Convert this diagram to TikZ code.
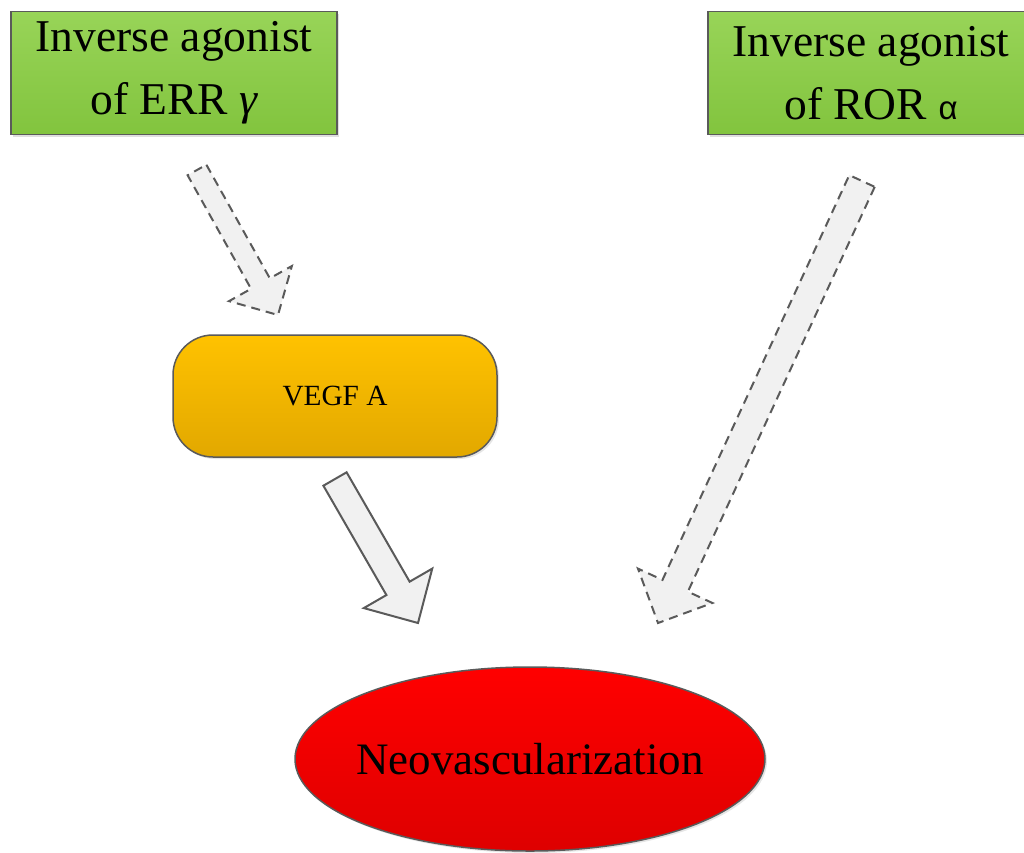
\documentclass[tikz,border=0pt]{standalone}
\usepackage{fontspec}
\setmainfont{Liberation Serif}
\newfontfamily\greeksans{Liberation Sans}
\usetikzlibrary{calc,shapes.geometric,shadows}
\definecolor{gtop}{HTML}{98D458}
\definecolor{gbot}{HTML}{82C43E}
\definecolor{otop}{HTML}{FFC200}
\definecolor{obot}{HTML}{E2A800}
\definecolor{rtop}{HTML}{FF0000}
\definecolor{rbot}{HTML}{DE0000}
\definecolor{edgegray}{HTML}{5A5A5A}
\definecolor{arrowfill}{HTML}{F1F1F1}
\tikzset{
  greenbox/.style={draw=edgegray, line width=1.5pt, top color=gtop, bottom color=gbot,
    minimum width=326pt, minimum height=123pt, align=center, inner sep=0pt,
    drop shadow={opacity=0.25, shadow xshift=2pt, shadow yshift=-2pt},
    font=\fontsize{45.5}{63}\selectfont},
  orangebox/.style={draw=edgegray, line width=1.5pt, top color=otop, bottom color=obot,
    rounded corners=40pt, minimum width=324pt, minimum height=122pt, inner sep=0pt,
    drop shadow={opacity=0.2, shadow xshift=2pt, shadow yshift=-2pt},
    font=\fontsize{29.3}{34}\selectfont},
  redell/.style={ellipse, draw=edgegray, line width=1.5pt, top color=rtop, bottom color=rbot,
    minimum width=470pt, minimum height=184pt, inner sep=0pt,
    drop shadow={opacity=0.2, shadow xshift=2pt, shadow yshift=-2pt}},
  elltext/.style={font=\fontsize{45}{50}\selectfont},
  dasharrow/.style={draw=edgegray, line width=2pt, fill=arrowfill, dash pattern=on 9pt off 6pt, line join=miter},
  solidarrow/.style={draw=edgegray, line width=2pt, fill=arrowfill, line join=miter},
}
% #1 style, #2 tail, #3 tip, #4 shaft half width, #5 head half width, #6 head length
\newcommand{\blockarrow}[6]{%
  \coordinate (ba-h) at ($(#3)!#6pt!(#2)$);
  \path[#1] ($(#2)!#4pt!90:(#3)$) -- ($(ba-h)!#4pt!90:(#3)$) -- ($(ba-h)!#5pt!90:(#3)$)
    -- (#3) -- ($(ba-h)!#5pt!-90:(#3)$) -- ($(ba-h)!#4pt!-90:(#3)$) -- ($(#2)!#4pt!-90:(#3)$) -- cycle;
}
\begin{document}
\begin{tikzpicture}[x=1pt, y=-1pt]
  \useasboundingbox[fill=white] (0,0) rectangle (1024,852);
  \node[greenbox] (err) at (174,73) {Inverse agonist\\of ERR {\itshape γ}};
  \node[greenbox] (ror) at (871,73) {Inverse agonist\\of ROR {\greeksans\fontsize{33}{33}\selectfont α}};
  \node[orangebox] (vegf) at (335,396) {VEGF A};
  \node[redell, label={[elltext]center:Neovascularization}] (neo) at (530,759) {};
  \coordinate (a1t) at (197,170);
  \coordinate (a1h) at (278,315);
  \coordinate (a2t) at (335,479);
  \coordinate (a2h) at (418,623);
  \coordinate (a3t) at (862,181);
  \coordinate (a3h) at (658,623);
  \blockarrow{dasharrow}{a1t}{a1h}{10.75}{36}{36}
  \blockarrow{solidarrow}{a2t}{a2h}{13.4}{39.5}{40}
  \blockarrow{dasharrow}{a3t}{a3h}{14}{41}{41}
\end{tikzpicture}
\end{document}
